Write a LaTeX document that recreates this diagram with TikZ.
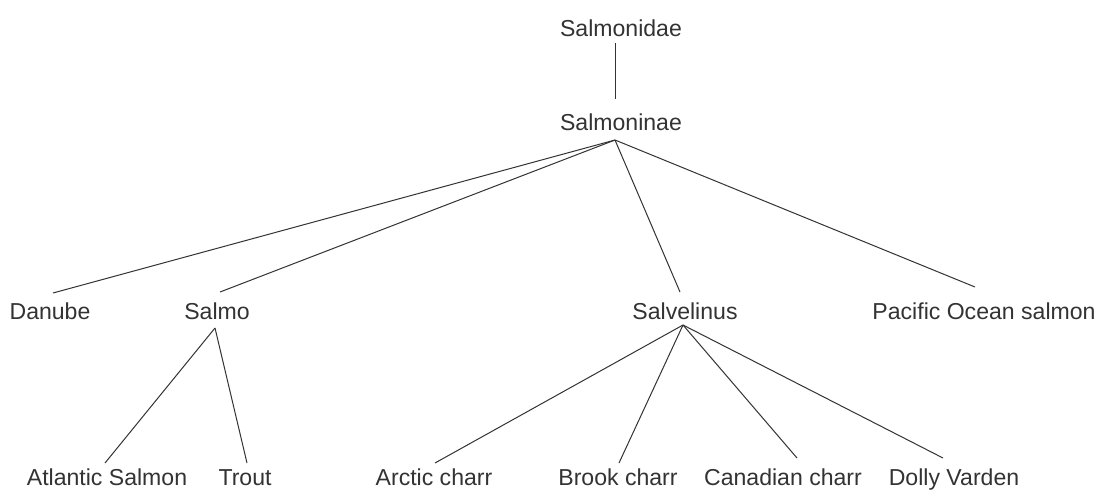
\documentclass[tikz,border=0pt]{standalone}
\usepackage{fontspec}
\setmainfont{Liberation Sans}
\definecolor{ink}{HTML}{333333}
\begin{document}
\begin{tikzpicture}[x=0.75pt,y=-0.75pt,
  taxon/.style={anchor=base,inner sep=0pt,outer sep=0pt,text height=12pt,text depth=0pt,
    font=\fontsize{17.3}{20}\selectfont,text=ink},
  link/.style={draw=ink,line width=0.75pt}]
\useasboundingbox[fill=white] (0,0) rectangle (1102,490);
% nodes
\node[taxon] (salmonidae) at (621,36) {Salmonidae};
\node[taxon] (salmoninae) at (621,130) {Salmoninae};
\node[taxon] (danube) at (50,319) {Danube};
\node[taxon] (salmo) at (217,319) {Salmo};
\node[taxon] (salvelinus) at (685,319) {Salvelinus};
\node[taxon] (pacific) at (984,319) {Pacific Ocean salmon};
\node[taxon] (atlantic) at (107,485) {Atlantic Salmon};
\node[taxon] (trout) at (245,485) {Trout};
\node[taxon] (arctic) at (434,485) {Arctic charr};
\node[taxon] (brook) at (618,485) {Brook charr};
\node[taxon] (canadian) at (783,485) {Canadian charr};
\node[taxon] (dolly) at (954,485) {Dolly Varden};
% branch points
\coordinate (apexA) at ([shift={(-6,10)}]salmoninae.south);
\coordinate (apexB) at ([shift={(-2,9)}]salmo.south);
\coordinate (apexC) at ([shift={(-2,6)}]salvelinus.south);
% connectors
\draw[link] ([shift={(-6,7)}]salmonidae.south) -- ([shift={(-6,-15)}]salmoninae.north);
\draw[link] (apexA) -- ([shift={(3,-10)}]danube.north);
\draw[link] (apexA) -- ([shift={(3,-11)}]salmo.north);
\draw[link] (apexA) -- ([shift={(-5,-11)}]salvelinus.north);
\draw[link] (apexA) -- ([shift={(-9,-16)}]pacific.north);
\draw[link] (apexB) -- ([shift={(-2,-6)}]atlantic.north);
\draw[link] (apexB) -- ([shift={(2,-6)}]trout.north);
\draw[link] (apexC) -- ([shift={(1,-6)}]arctic.north);
\draw[link] (apexC) -- ([shift={(1,-6)}]brook.north);
\draw[link] (apexC) -- ([shift={(14,-11)}]canadian.north);
\draw[link] (apexC) -- ([shift={(-11,-11)}]dolly.north);
\end{tikzpicture}
\end{document}
